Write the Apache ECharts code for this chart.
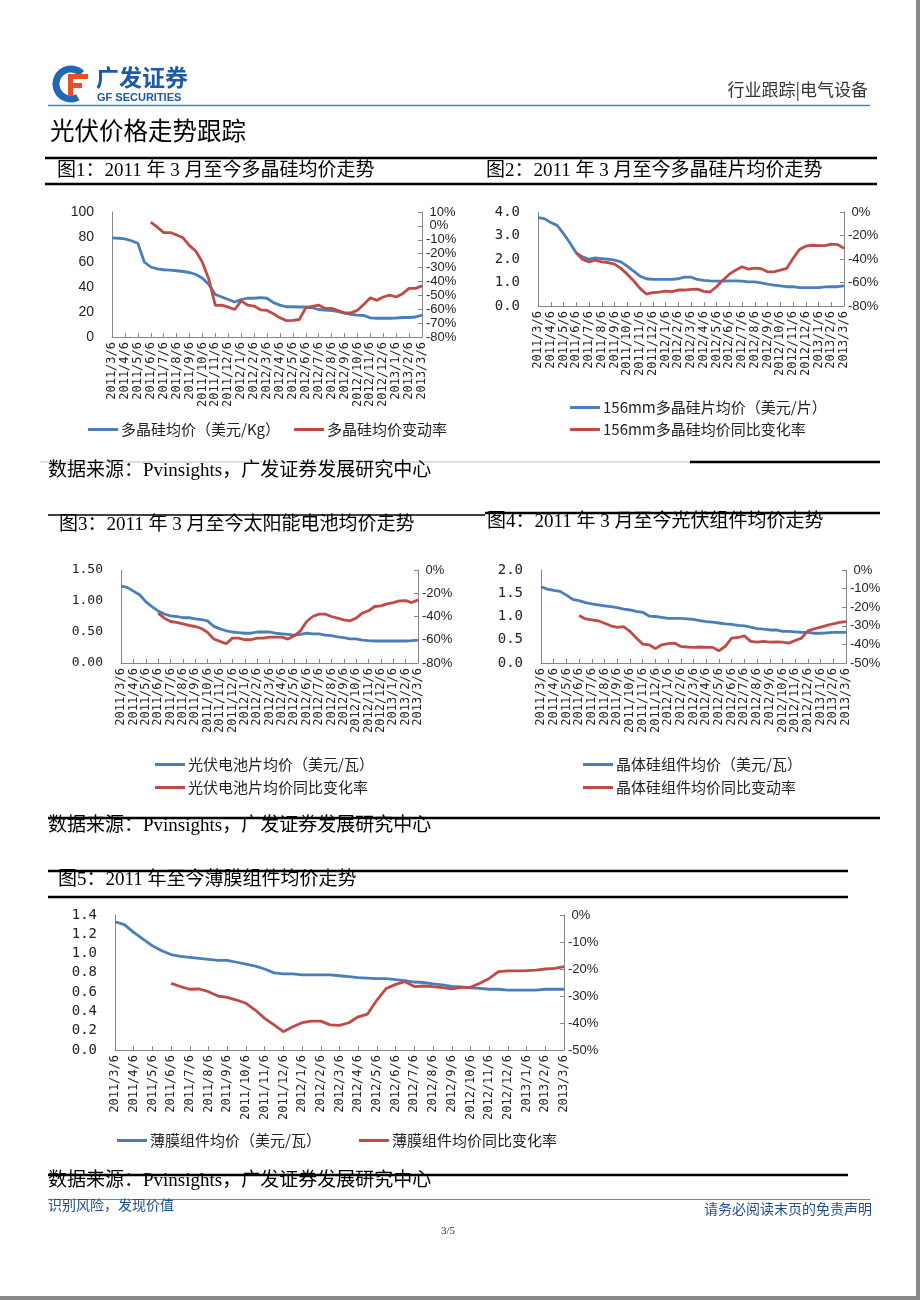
<!DOCTYPE html>
<html><head><meta charset="utf-8">
<script src="https://cdn.jsdelivr.net/npm/echarts@6/dist/echarts.min.js"></script>
<style>html,body{margin:0;padding:0;background:#fff}#c{width:920px;height:1300px}</style>
</head><body><div id="c"></div>
<script>
// ---- tick labels (monthly) ----
const monthLabels = ['2011/3/6','2011/4/6','2011/5/6','2011/6/6','2011/7/6','2011/8/6','2011/9/6','2011/10/6','2011/11/6','2011/12/6','2012/1/6','2012/2/6','2012/3/6','2012/4/6','2012/5/6','2012/6/6','2012/7/6','2012/8/6','2012/9/6','2012/10/6','2012/11/6','2012/12/6','2013/1/6','2013/2/6','2013/3/6'];
// ---- series values (two readings per month, start and mid-month) ----
const polyPrice = [79.3,79,78.5,77,75,60,56,54.5,53.8,53.5,53,52.4,51.6,50,47,42,34,32,30,28,30,31,31,31.5,31,27.5,25.5,24.2,24.2,24,24,23.4,22,21.5,21.2,20.2,19,18,17.5,17.2,15.3,15,15,15,15.2,15.6,15.6,16,17.5];
const polyChg = [null,null,null,null,null,null,2.7,-0.9,-4.8,-4.8,-6.5,-8.6,-14.2,-18.3,-26.3,-38.4,-57.3,-57,-58.5,-60.2,-54,-57,-57.7,-60.4,-60.9,-63.3,-66.2,-68.2,-68,-67.4,-59,-58,-57,-59.4,-59.4,-61,-62.6,-62.6,-60.7,-56.5,-51.7,-53.6,-51.2,-49.8,-51.2,-48.8,-45,-45,-43.2];
const waferPrice = [3.76,3.72,3.55,3.43,3.08,2.69,2.26,2.09,1.99,2.05,2.02,1.99,1.95,1.88,1.70,1.48,1.27,1.16,1.13,1.13,1.13,1.13,1.16,1.23,1.23,1.13,1.09,1.07,1.06,1.06,1.07,1.07,1.06,1.03,1.03,0.98,0.93,0.89,0.86,0.82,0.82,0.78,0.78,0.78,0.78,0.81,0.82,0.82,0.86];
const waferChg = [null,null,null,null,null,null,-34.8,-40.4,-42.4,-41,-42.4,-43,-44.4,-48,-52.9,-58.5,-65,-69.8,-68.7,-68.1,-67.3,-67.8,-66.4,-66.4,-65.9,-65.6,-67.6,-68.1,-63.6,-58,-52.9,-49.5,-46.6,-48.6,-47.8,-48.3,-50.9,-50.9,-49.5,-48,-39.6,-32,-29.1,-28.3,-28.6,-28.6,-27.4,-27.7,-31];
const cellPrice = [1.24,1.22,1.16,1.10,0.99,0.91,0.84,0.79,0.76,0.75,0.73,0.73,0.71,0.70,0.68,0.59,0.55,0.52,0.50,0.49,0.48,0.48,0.50,0.50,0.50,0.48,0.47,0.46,0.45,0.46,0.48,0.47,0.47,0.45,0.44,0.42,0.41,0.39,0.39,0.37,0.36,0.355,0.355,0.355,0.355,0.355,0.355,0.36,0.37];
const cellChg = [null,null,null,null,null,null,-37.1,-41.4,-44.3,-45.1,-46.3,-47.7,-48.6,-50.3,-53.7,-59.4,-61.4,-63.4,-58.6,-58.6,-60,-60,-58.6,-58.6,-57.7,-57.7,-57.7,-59.4,-56.6,-52.3,-44.3,-40,-38,-38,-40,-41.4,-42.9,-43.7,-41.4,-37.1,-35.1,-31.4,-30.9,-29.1,-28,-26.6,-26.3,-28,-25.7];
const modulePrice = [1.64,1.59,1.56,1.54,1.46,1.37,1.34,1.30,1.27,1.25,1.23,1.21,1.19,1.16,1.14,1.11,1.09,1.01,1.00,0.98,0.96,0.96,0.96,0.95,0.94,0.91,0.89,0.88,0.86,0.84,0.83,0.81,0.80,0.77,0.74,0.73,0.71,0.71,0.68,0.68,0.67,0.66,0.66,0.64,0.64,0.65,0.66,0.66,0.66];
const moduleChg = [null,null,null,null,null,null,-24.5,-26.3,-26.8,-27.3,-28.6,-30,-30.9,-30.4,-33,-36.6,-39.8,-40.2,-42.3,-40.2,-39.6,-39.3,-41.1,-41.4,-41.6,-41.4,-41.6,-41.6,-43.4,-41.1,-36.6,-36.3,-35.4,-38.4,-38.8,-38.4,-38.8,-38.6,-38.8,-39.3,-37.9,-36.6,-32.7,-31.6,-30.7,-29.8,-28.9,-28.2,-27.7];
const filmPrice = [1.33,1.30,1.22,1.15,1.08,1.03,0.99,0.97,0.96,0.95,0.94,0.93,0.93,0.91,0.89,0.87,0.84,0.80,0.79,0.79,0.78,0.78,0.78,0.78,0.77,0.76,0.75,0.745,0.74,0.74,0.73,0.72,0.705,0.70,0.685,0.675,0.66,0.655,0.645,0.64,0.63,0.63,0.62,0.62,0.62,0.62,0.63,0.63,0.63];
const filmChg = [null,null,null,null,null,null,-25.3,-26.5,-27.5,-27.4,-28.4,-30,-30.5,-31.5,-32.7,-35.2,-38.3,-40.7,-43.2,-41.4,-39.9,-39.3,-39.3,-40.7,-40.9,-39.9,-37.7,-36.7,-31.5,-27.2,-25.7,-24.7,-26.5,-26.3,-26.5,-26.9,-27.4,-26.8,-26.8,-25.3,-23.5,-21,-20.7,-20.7,-20.6,-20.4,-20,-19.8,-19.1];
// ---- names ----
const seriesNames = [
  ['多晶硅均价（美元/Kg）','多晶硅均价变动率'],
  ['156mm多晶硅片均价（美元/片）','156mm多晶硅均价同比变化率'],
  ['光伏电池片均价（美元/瓦）','光伏电池片均价同比变化率'],
  ['晶体硅组件均价（美元/瓦）','晶体硅组件均价同比变动率'],
  ['薄膜组件均价（美元/瓦）','薄膜组件均价同比变化率']
];
const titles = ['图1：2011 年 3 月至今多晶硅均价走势','图2：2011 年 3 月至今多晶硅片均价走势','图3：2011 年 3 月至今太阳能电池均价走势','图4：2011 年 3 月至今光伏组件均价走势','图5：2011 年至今薄膜组件均价走势'];
const sourceText = '数据来源：Pvinsights，广发证券发展研究中心';

// categories: month start + mid-month
const cats = [];
monthLabels.forEach((m, i) => { cats.push(m); if (i < monthLabels.length - 1) cats.push(m.replace(/\/6$/, '/21')); });

const BLUE = '#4A7EBB', RED = '#BE4B48', AX = '#868686';
const MONO = "'DejaVu Sans Mono',monospace";
const SANS = "'Liberation Sans',Arial,sans-serif";
const CJK = "'Noto Sans CJK SC',sans-serif";
const SERIF = "'Liberation Serif','Noto Sans CJK SC',serif";

const grids = [
  {left:112, top:212, width:310, height:125},
  {left:538, top:212, width:306, height:94},
  {left:121, top:570, width:297, height:93},
  {left:541, top:570, width:305, height:93},
  {left:115, top:915, width:449, height:135}
];
const leftAx = [
  {min:0,max:100,interval:20,fmt:v=>String(v),font:SANS,size:14},
  {min:0,max:4,interval:1,fmt:v=>v.toFixed(1),font:MONO,size:14},
  {min:0,max:1.5,interval:0.5,fmt:v=>v.toFixed(2),font:MONO,size:13},
  {min:0,max:2,interval:0.5,fmt:v=>v.toFixed(1),font:MONO,size:14},
  {min:0,max:1.4,interval:0.2,fmt:v=>v.toFixed(1),font:MONO,size:14}
];
const rightAx = [
  {min:-80,max:10,interval:10},
  {min:-80,max:0,interval:20},
  {min:-80,max:0,interval:20},
  {min:-50,max:0,interval:10},
  {min:-50,max:0,interval:10}
];
const prices = [polyPrice, waferPrice, cellPrice, modulePrice, filmPrice];
const changes = [polyChg, waferChg, cellChg, moduleChg, filmChg];

const xAxis = grids.map((g, i) => ({
  type:'category', gridIndex:i, data:cats, boundaryGap:false,
  axisLine:{lineStyle:{color:AX,width:1}},
  axisTick:{show:true, inside:true, length:4, interval:1, lineStyle:{color:AX}},
  axisLabel:{interval:1, rotate:90, fontFamily:MONO, fontSize:12, color:'#222', margin:5},
  splitLine:{show:false}
}));
const yAxis = [];
grids.forEach((g, i) => {
  const L = leftAx[i], R = rightAx[i];
  yAxis.push({type:'value', gridIndex:i, position:'left', min:L.min, max:L.max, interval:L.interval,
    axisLine:{show:true, lineStyle:{color:AX}}, axisTick:{show:false}, splitLine:{show:false},
    axisLabel:{formatter:L.fmt, fontFamily:L.font, fontSize:L.size, color:'#222', margin:18}});
  yAxis.push({type:'value', gridIndex:i, position:'right', min:R.min, max:R.max, interval:R.interval,
    axisLine:{show:true, lineStyle:{color:AX}}, axisTick:{show:true, inside:true, length:4, lineStyle:{color:AX}}, splitLine:{show:false},
    axisLabel:{formatter:v=>(v>=0?' ':'')+v+'%', fontFamily:SANS, fontSize:13, color:'#222', margin:4}});
});
const series = [];
grids.forEach((g, i) => {
  series.push({name:seriesNames[i][0], type:'line', xAxisIndex:i, yAxisIndex:2*i, data:prices[i], showSymbol:false, symbol:'none',
    lineStyle:{color:BLUE, width:2.8}, itemStyle:{color:BLUE}, z:3});
  series.push({name:seriesNames[i][1], type:'line', xAxisIndex:i, yAxisIndex:2*i+1, data:changes[i], showSymbol:false, symbol:'none',
    lineStyle:{color:RED, width:2.8}, itemStyle:{color:RED}, z:4});
});
const legBase = {icon:'rect', itemWidth:30, itemHeight:3, padding:0, textStyle:{fontFamily:CJK, fontSize:15, color:'#222', padding:[0,0,0,-2]}, selectedMode:false};
const legend = [
  Object.assign({}, legBase, {data:seriesNames[0], left:88, top:422, orient:'horizontal', itemGap:14}),
  Object.assign({}, legBase, {data:seriesNames[1], left:570, top:400, orient:'vertical', itemGap:7}),
  Object.assign({}, legBase, {data:seriesNames[2], left:155, top:757, orient:'vertical', itemGap:8}),
  Object.assign({}, legBase, {data:seriesNames[3], left:583, top:757, orient:'vertical', itemGap:8}),
  Object.assign({}, legBase, {data:seriesNames[4], left:117, top:1133, orient:'horizontal', itemGap:38})
];

function T(text, x, y, font, fill, align, weight) {
  return {type:'text', silent:true, style:{text:text, x:x, y:y, fill:fill||'#000', font:(weight||'normal')+' '+font,
    align:align||'left', verticalAlign:'middle', textAlign:align||'left', textVerticalAlign:'middle'}};
}
function Ln(x1, y1, x2, y2, color, w) {
  return {type:'line', silent:true, shape:{x1:x1,y1:y1,x2:x2,y2:y2}, style:{stroke:color, lineWidth:w}};
}
const graphic = [
  // logo
  {type:'arc', silent:true, shape:{cx:71, cy:84, r:15, startAngle:Math.PI*0.35, endAngle:Math.PI*1.75}, style:{stroke:'#1f68b3', lineWidth:7, fill:null}},
  {type:'rect', silent:true, shape:{x:68, y:74, width:20, height:5}, style:{fill:'#e94b2b'}},
  {type:'rect', silent:true, shape:{x:68, y:83, width:14, height:5}, style:{fill:'#e94b2b'}},
  {type:'rect', silent:true, shape:{x:68, y:74, width:5, height:22}, style:{fill:'#e94b2b'}},
  T('广发证券', 96, 77, '23px '+CJK, '#1b5aa6', 'left', 'bold'),
  T('GF SECURITIES', 97, 98, '11px '+SANS, '#1b5aa6', 'left', 'bold'),
  T('行业跟踪|电气设备', 868, 90, '17px '+CJK, '#333', 'right'),
  Ln(48, 105.5, 870, 105.5, '#2e8fc6', 1.5),
  T('光伏价格走势跟踪', 50, 131, '24.5px '+CJK, '#000'),
  Ln(45, 158, 877, 158, '#000', 2.5),
  T(titles[0], 57, 171, '19px '+SERIF, '#000'),
  T(titles[1], 486, 171, '19px '+SERIF, '#000'),
  Ln(45, 184, 877, 184, '#000', 2.5),
  Ln(40, 462, 690, 462, '#bbb', 1),
  Ln(690, 462, 880, 462, '#000', 2.5),
  T(sourceText, 48, 471, '19px '+SERIF, '#000'),
  Ln(48, 515, 485, 515, '#000', 1.5),
  Ln(485, 513, 880, 513, '#000', 2.5),
  T(titles[2], 59, 525, '19px '+SERIF, '#000'),
  T(titles[3], 487, 522, '19px '+SERIF, '#000'),
  Ln(48, 818, 880, 818, '#000', 2.5),
  T(sourceText, 48, 826, '19px '+SERIF, '#000'),
  Ln(48, 871, 848, 871, '#000', 2.5),
  T(titles[4], 58, 880, '19px '+SERIF, '#000'),
  Ln(48, 897, 848, 897, '#000', 2.5),
  T(sourceText, 48, 1181, '19px '+SERIF, '#000'),
  Ln(48, 1175, 848, 1175, '#000', 2.5),
  Ln(48, 1199.5, 870, 1199.5, '#2e9fd0', 1),
  T('识别风险，发现价值', 48, 1205, '14px '+CJK, '#1f4e8c'),
  T('请务必阅读末页的免责声明', 872, 1209, '14px '+CJK, '#1f4e8c', 'right'),
  T('3/5', 448, 1231, '11px '+SERIF, '#333', 'center'),
  Ln(918, 0, 918, 1300, '#888', 4),
  Ln(0, 1298, 920, 1298, '#888', 4)
];

const chart = echarts.init(document.getElementById('c'), null, {renderer:'canvas'});
chart.setOption({animation:false, backgroundColor:'#fff', grid:grids.map(g=>Object.assign({containLabel:false}, g)),
  xAxis:xAxis, yAxis:yAxis, series:series, legend:legend, graphic:graphic});
</script></body></html>
